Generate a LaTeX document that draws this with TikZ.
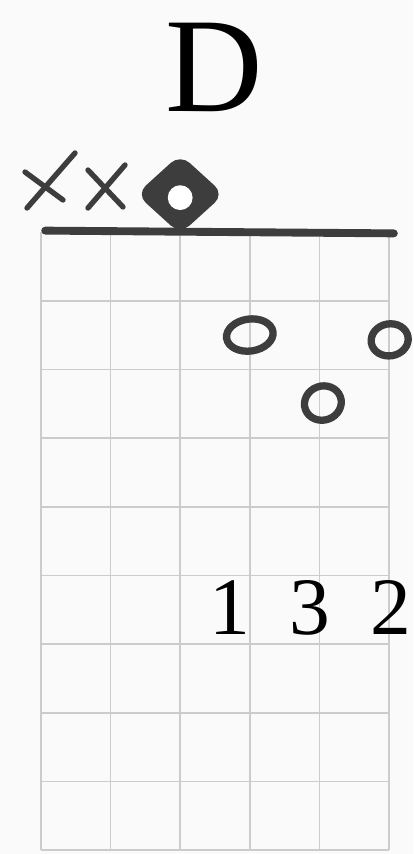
\documentclass[tikz,border=0pt]{standalone}
\usepackage{fontspec}
\setmainfont{Liberation Serif}
\usetikzlibrary{shapes.geometric}

\colorlet{ink}{black!76}
\colorlet{fretgrid}{black!20}

\begin{document}
\begin{tikzpicture}[x=1.74cm, y=1.7175cm,
    gridline/.style={fretgrid, line width=1.2pt},
    pencil/.style={ink, line width=3.8pt, line cap=round},
    dot/.style={draw=ink, line width=5.2pt, ellipse, inner sep=0pt}]
  \fill[white!98!black] (-0.589,3.377) rectangle (5.345,-9.054);
  \useasboundingbox (-0.589,3.377) rectangle (5.345,-9.054);
  % strings and frets
  \foreach \s in {0,...,5} \draw[gridline] (\s,0) -- (\s,-9);
  \foreach \f in {1,...,9} \draw[gridline] (0,-\f) -- (5,-\f);
  % nut
  \draw[ink, line width=5.6pt, line cap=round] (0.06,0.02) -- (5.07,-0.02);
  % chord name
  \node[anchor=base, font=\fontsize{96}{96}\selectfont] (chord) at (2.486,1.747) {D};
  % muted strings
  \draw[pencil] (0.489,1.150) -- (-0.201,0.349);
  \draw[pencil] (-0.230,0.873) -- (0.316,0.466);
  \draw[pencil] (1.207,0.975) -- (0.675,0.349);
  \draw[pencil] (0.675,0.902) -- (1.178,0.364);
  % open string
  \node[diamond, fill=ink, rounded corners=9pt, minimum width=2.2cm,
        minimum height=2.0cm, inner sep=0pt] (open) at (2.0,0.55) {};
  \node[circle, fill=white, minimum size=0.62cm, inner sep=0pt] (hole) at (2.0,0.50) {};
  % fingers
  \node[dot, rotate=8, minimum width=1.17cm, minimum height=0.80cm] (d4) at (3.0,-1.50) {};
  \node[dot, rotate=10, minimum width=0.93cm, minimum height=0.80cm] (d6) at (5.01,-1.57) {};
  \node[dot, rotate=20, minimum width=0.93cm, minimum height=0.85cm] (d5) at (4.05,-2.49) {};
  % fingering
  \node[anchor=base, font=\fontsize{58}{58}\selectfont] (f1) at (2.716,-5.866) {1};
  \node[anchor=base, font=\fontsize{58}{58}\selectfont] (f3) at (3.865,-5.866) {3};
  \node[anchor=base, font=\fontsize{58}{58}\selectfont] (f2) at (5.02,-5.866) {2};
\end{tikzpicture}
\end{document}
